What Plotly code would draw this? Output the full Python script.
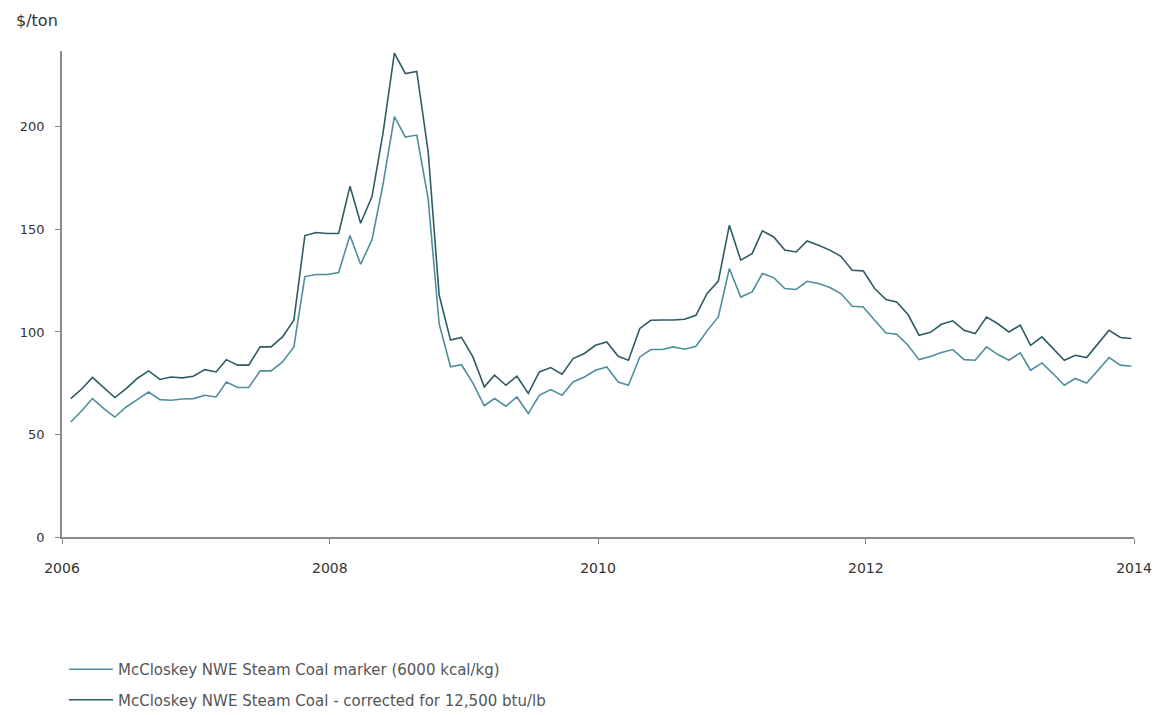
import pandas as pd
import plotly.graph_objects as go

# Monthly observations, Jan 2006 - Dec 2013
start_year = 2006
n_months = 96
dates = [pd.Timestamp(start_year + m // 12, m % 12 + 1, 25) for m in range(n_months)]

marker_6000 = [
    56.1, 61.8, 67.5, 62.6, 58.5, 63.4, 67.0, 70.7, 67.0, 66.7, 67.3, 67.5,
    69.1, 68.3, 75.6, 72.9, 72.9, 81.0, 81.0, 85.4, 92.7, 127.0, 128.0, 128.0,
    129.0, 147.0, 133.0, 145.0, 172.0, 205.0, 195.0, 196.0, 165.0, 104.0, 83.0, 84.0,
    75.0, 64.0, 67.5, 63.8, 68.3, 60.2, 69.1, 71.9, 69.1, 75.6, 78.0, 81.3,
    82.9, 75.6, 74.0, 87.8, 91.4, 91.4, 92.7, 91.6, 93.0, 100.4, 107.3, 130.9,
    117.0, 119.5, 128.5, 126.5, 121.2, 120.7, 124.7, 123.6, 121.7, 118.7, 112.5, 112.2,
    105.7, 99.5, 98.9, 93.5, 86.5, 88.0, 90.0, 91.4, 86.5, 86.2, 92.7, 89.1,
    86.2, 89.8, 81.3, 84.9, 79.7, 74.0, 77.3, 75.1, 81.3, 87.5, 83.8, 83.3,
]

corrected_12500 = [
    67.5, 72.4, 77.8, 72.9, 68.0, 72.4, 77.3, 81.0, 76.8, 78.0, 77.6, 78.4,
    81.6, 80.5, 86.5, 83.8, 83.8, 92.7, 92.7, 97.6, 105.7, 147.0, 148.5, 148.0,
    148.0, 171.0, 153.0, 166.0, 197.0, 236.0, 226.0, 227.0, 188.0, 118.0, 96.0, 97.3,
    87.8, 73.2, 78.9, 74.0, 78.4, 70.0, 80.5, 82.6, 79.4, 87.0, 89.5, 93.5,
    95.1, 88.1, 86.2, 101.7, 105.7, 105.8, 105.8, 106.2, 108.1, 118.7, 124.8, 152.0,
    135.0, 138.2, 149.3, 146.3, 139.9, 139.0, 144.4, 142.3, 139.9, 136.9, 130.1, 129.8,
    121.2, 115.8, 114.6, 108.5, 98.4, 99.8, 103.7, 105.4, 100.8, 99.2, 107.3, 104.1,
    100.0, 103.3, 93.5, 97.6, 91.9, 86.2, 88.6, 87.5, 94.3, 100.8, 97.3, 96.8,
]

series_names = [
    "McCloskey NWE Steam Coal marker (6000 kcal/kg)",
    "McCloskey NWE Steam Coal - corrected for 12,500 btu/lb",
]
y_ticks = [0, 50, 100, 150, 200]
x_tick_years = [2006, 2008, 2010, 2012, 2014]

FONT = "DejaVu Sans"
W, H = 1161, 715
ML, MR, MT, MB = 62, 27, 51, 178
PW, PH = W - ML - MR, H - MT - MB

fig = go.Figure()
fig.add_trace(go.Scatter(
    x=dates, y=marker_6000, mode="lines", name=series_names[0],
    line=dict(color="#4f8e9c", width=1.6), legendgroup="g1",
))
fig.add_trace(go.Scatter(
    x=dates, y=corrected_12500, mode="lines", name=series_names[1],
    line=dict(color="#2f5b64", width=1.6), legendgroup="g2",
))

fig.update_layout(
    width=W, height=H,
    margin=dict(l=ML, r=MR, t=MT, b=MB, autoexpand=False),
    paper_bgcolor="white", plot_bgcolor="white",
    font=dict(family=FONT, size=14, color="#333333"),
    legend=dict(
        x=(64 - ML) / PW, y=(H - MB - 653) / PH,
        xanchor="left", yanchor="top",
        orientation="v", traceorder="grouped", tracegroupgap=8,
        itemwidth=44,
        bgcolor="rgba(0,0,0,0)", borderwidth=0,
        font=dict(family=FONT, size=15, color="#555555"),
    ),
    xaxis=dict(
        type="date",
        range=[f"{x_tick_years[0]}-01-01", f"{x_tick_years[-1]}-01-01"],
        tickvals=[f"{yr}-01-01" for yr in x_tick_years],
        ticktext=[str(yr) for yr in x_tick_years],
        showgrid=False, zeroline=False,
        showline=True, linecolor="#8a8a8a", linewidth=1.5,
        ticks="outside", ticklen=5, tickcolor="#8a8a8a", tickwidth=1,
        ticklabelstandoff=12,
        tickfont=dict(family=FONT, size=14, color="#333333"),
    ),
    yaxis=dict(
        range=[0, 237],
        tickvals=y_ticks,
        showgrid=False, zeroline=False,
        showline=True, linecolor="#8a8a8a", linewidth=1.5,
        ticks="outside", ticklen=5, tickcolor="#8a8a8a", tickwidth=1,
        ticklabelstandoff=8,
        tickfont=dict(family=FONT, size=13, color="#333333"),
    ),
    annotations=[dict(
        text="$/ton", xref="paper", yref="paper",
        x=(14 - ML) / PW, y=(H - MB - 20) / PH,
        xanchor="left", yanchor="middle", showarrow=False,
        font=dict(family=FONT, size=16, color="#333333"),
    )],
)

fig.write_html("out.html")
